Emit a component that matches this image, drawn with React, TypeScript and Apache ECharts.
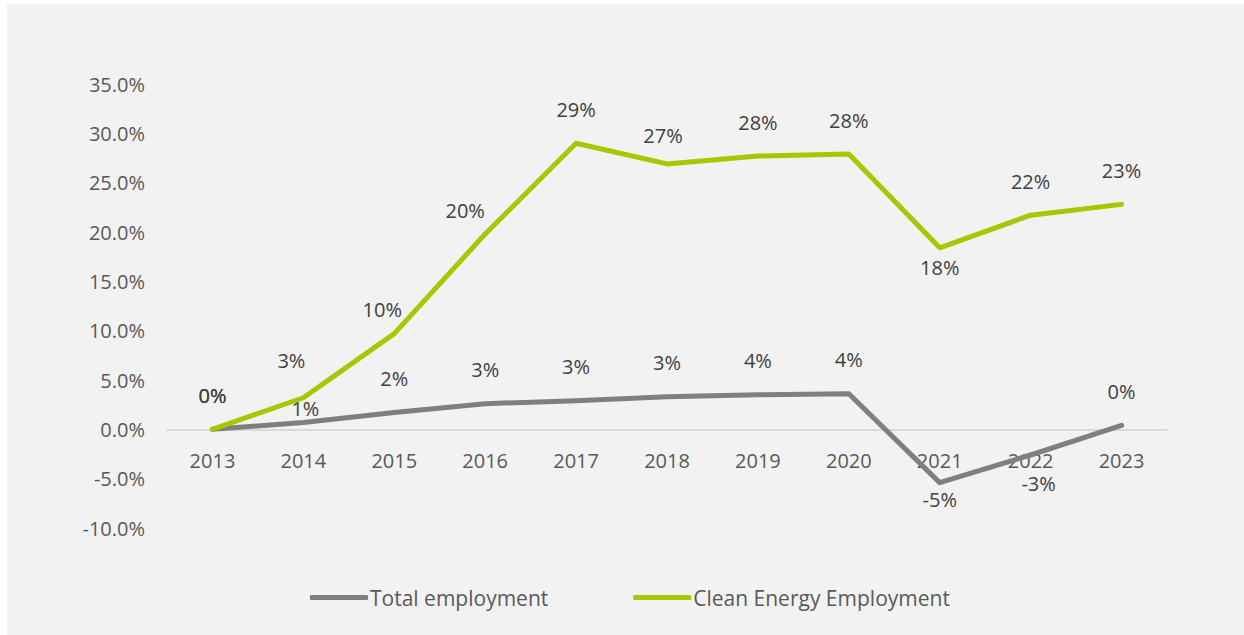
import React, { useEffect, useRef } from "react";
import * as echarts from "echarts";

const years = ["2013", "2014", "2015", "2016", "2017", "2018", "2019", "2020", "2021", "2022", "2023"];
const totalEmployment = [0, 0.7, 1.7, 2.6, 2.9, 3.3, 3.5, 3.6, -5.4, -2.6, 0.4];
const cleanEnergyEmployment = [0, 3.2, 9.7, 19.8, 29.0, 26.9, 27.7, 27.9, 18.4, 21.7, 22.8];
const yTicks = { min: -10, max: 35, interval: 5 };

// label placement tweaks (style only), keyed by index
const cleanLabelPos: Record<number, any> = {
  8: { position: "bottom", distance: 10 },
};
const cleanLabelShift: Record<number, [number, number]> = {
  1: [-12, -3],
  2: [-12, 10],
  3: [-20, 11],
  5: [-4, 6],
};
const totalLabelPos: Record<number, any> = {
  8: { position: "bottom", distance: 7 },
  9: { position: "bottom", distance: 19 },
};
const totalLabelShift: Record<number, [number, number]> = {
  1: [2, 20],
  9: [8, 0],
};

const FONT = "'Open Sans', 'Noto Sans', sans-serif";

function buildData(values: number[], tweaks: Record<number, any>) {
  return values.map((v, i) => (tweaks[i] ? { value: v, label: tweaks[i] } : v));
}

function shifter(shifts: Record<number, [number, number]>) {
  return (p: any) => {
    const s = shifts[p.dataIndex];
    return s ? { dx: s[0], dy: s[1], hideOverlap: false } : { hideOverlap: false };
  };
}

export default function App() {
  const ref = useRef<HTMLDivElement>(null);
  useEffect(() => {
    if (!ref.current) return;
    const chart = echarts.init(ref.current, undefined, { renderer: "svg" });
    const labelStyle = {
      show: true,
      position: "top",
      distance: 24,
      color: "#404040",
      fontSize: 20,
      fontFamily: FONT,
      formatter: (p: any) => `${Math.round(p.value)}%`,
    };
    chart.setOption({
      animation: false,
      backgroundColor: "#f2f2f2",
      textStyle: { fontFamily: FONT },
      grid: { left: 160, right: 77, top: 80, bottom: 107, containLabel: false },
      legend: {
        bottom: 22,
        left: 298,
        itemWidth: 58,
        itemHeight: 5,
        itemGap: 85,
        textStyle: { color: "#595959", fontSize: 21, fontFamily: FONT, padding: [0, 0, 0, -3] },
        data: [
          { name: "Total employment", icon: "roundRect" },
          { name: "Clean Energy Employment", icon: "roundRect" },
        ],
      },
      xAxis: {
        type: "category",
        data: years,
        boundaryGap: true,
        axisLine: { show: true, onZero: true, lineStyle: { color: "#d9d9d9", width: 2 } },
        axisTick: { show: false },
        axisLabel: { color: "#595959", fontSize: 20, fontFamily: FONT, margin: -78 },
        splitLine: { show: false },
      },
      yAxis: {
        type: "value",
        min: yTicks.min,
        max: yTicks.max,
        interval: yTicks.interval,
        axisLine: { show: false },
        axisTick: { show: false },
        splitLine: { show: false },
        axisLabel: {
          color: "#595959",
          fontSize: 20,
          fontFamily: FONT,
          margin: 22,
          formatter: (v: number) => `${v.toFixed(1)}%`,
        },
      },
      series: [
        {
          name: "Total employment",
          type: "line",
          data: buildData(totalEmployment, totalLabelPos),
          symbol: "circle",
          symbolSize: 0,
          showSymbol: true,
          lineStyle: { color: "#7f7f7f", width: 5, cap: "round", join: "round" },
          itemStyle: { color: "#7f7f7f" },
          label: labelStyle,
          labelLayout: shifter(totalLabelShift),
          z: 2,
        },
        {
          name: "Clean Energy Employment",
          type: "line",
          data: buildData(cleanEnergyEmployment, cleanLabelPos),
          symbol: "circle",
          symbolSize: 0,
          showSymbol: true,
          lineStyle: { color: "#a5c800", width: 5, cap: "round", join: "round" },
          itemStyle: { color: "#a5c800" },
          label: labelStyle,
          labelLayout: shifter(cleanLabelShift),
          z: 3,
        },
      ],
    });
    return () => chart.dispose();
  }, []);
  return (
    <div style={{ position: "fixed", left: 0, top: 0, width: 1244, height: 635, background: "#ffffff" }}>
      <div ref={ref} style={{ position: "absolute", left: 7, top: 4, width: 1237, height: 631 }} />
    </div>
  );
}
